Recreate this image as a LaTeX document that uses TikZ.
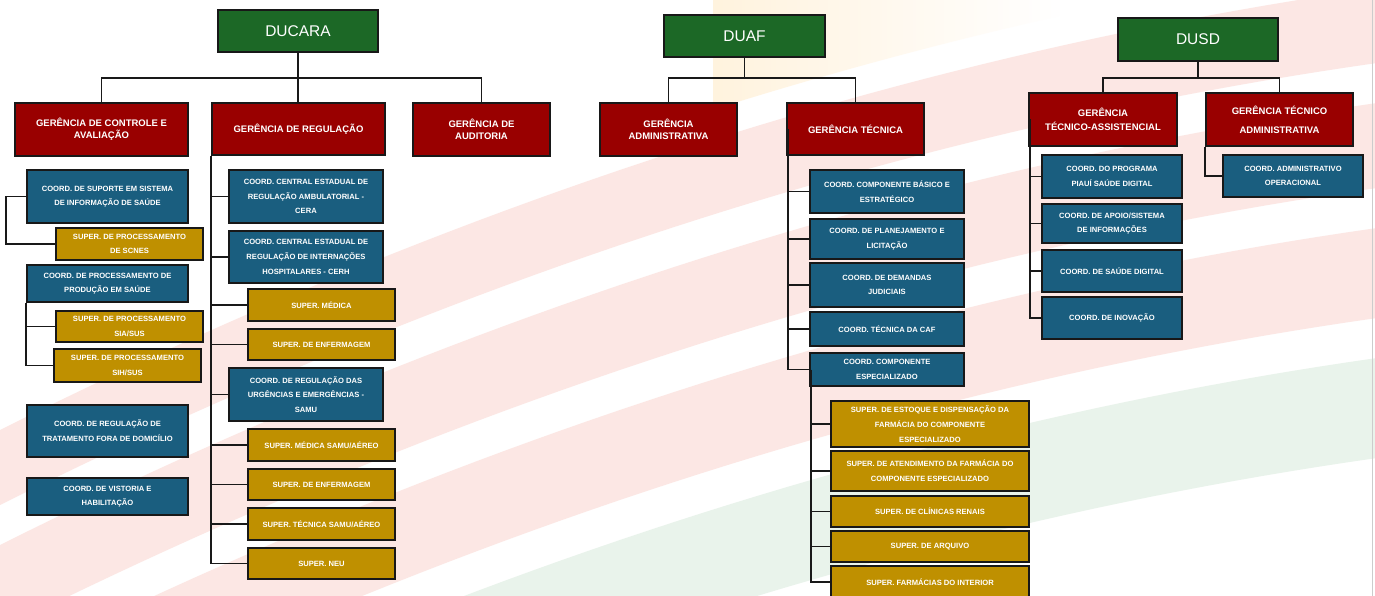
\documentclass[tikz,border=0pt]{standalone}
\usepackage{fontspec}
\setmainfont{Liberation Sans}
\usetikzlibrary{fadings}
\definecolor{dgreen}{RGB}{28,104,38}
\definecolor{dred}{RGB}{153,0,0}
\definecolor{dblue}{RGB}{26,94,127}
\definecolor{dgold}{RGB}{191,144,0}
\definecolor{boxline}{RGB}{24,24,24}
\definecolor{linkgray}{RGB}{25,25,25}
\definecolor{bandpink}{RGB}{252,231,228}
\definecolor{bandyellow}{RGB}{255,243,222}
\definecolor{bandgreen}{RGB}{233,243,235}
% place a box by its pixel corners: name, style, x1, y1, x2, y2, text
\newcommand\orgbox[7]{\node[#2,minimum width={(#5-#3)*1pt},minimum height={(#6-#4)*1pt}] (#1) at ({(#3+#5)/2},{(#4+#6)/2}) {#7};}
% a curved background stripe between two offsets
\newcommand\stripe[3]{\fill[#1] plot[domain=0:13.75,samples=50,variable=\u] ({100*\u},{#2-50*\u+1.3*\u*\u}) -- plot[domain=13.75:0,samples=50,variable=\u] ({100*\u},{#3-50*\u+1.3*\u*\u}) -- cycle;}
\begin{document}
\begin{tikzpicture}[x=1pt,y=-1pt,
  box/.style={draw=boxline,line width=1.5pt,inner sep=0pt,text=white,align=center},
  dir/.style={box,fill=dgreen,font=\fontsize{15.5}{18}\selectfont},
  ger/.style={box,fill=dred,font=\bfseries\fontsize{9.5}{12}\selectfont},
  crd/.style={box,fill=dblue,font=\bfseries\fontsize{7.6}{14.7}\selectfont},
  sup/.style={box,fill=dgold,font=\bfseries\fontsize{7.6}{14.7}\selectfont},
  link/.style={draw=linkgray,line width=1.8pt}]
\useasboundingbox (0,0) rectangle (1375,596);
% background stripes
\begin{scope}
  \clip (0,0) rectangle (1375,596);
  \fill[white] (0,0) rectangle (1375,596);
  \stripe{bandpink}{430}{505}
  \stripe{bandpink}{545}{630}
  \stripe{bandpink}{670}{760}
  \stripe{bandgreen}{800}{900}
  \begin{scope}
    \clip (713,0) rectangle (1060,596);
    \fill[bandyellow,path fading=east]
      plot[domain=7.13:10.6,samples=30,variable=\u] ({100*\u},{280-50*\u+1.3*\u*\u})
      -- plot[domain=10.6:7.13,samples=30,variable=\u] ({100*\u},{400-50*\u+1.3*\u*\u}) -- cycle;
  \end{scope}
\end{scope}
\draw[gray!40,line width=1pt] (1372,0) -- (1372,596);

% ---------- DUCARA ----------
\orgbox{ducara}{dir}{218}{10}{378}{52}{DUCARA}
\orgbox{ctrl}{ger}{15}{103}{188}{156}{GERÊNCIA DE CONTROLE E\\AVALIAÇÃO}
\orgbox{reg}{ger}{212}{103}{385}{155}{GERÊNCIA DE REGULAÇÃO}
\orgbox{aud}{ger}{413}{103}{550}{156}{GERÊNCIA DE\\AUDITORIA}
\orgbox{csup}{crd}{27}{170}{188}{223}{COORD. DE SUPORTE EM SISTEMA\\DE INFORMAÇÃO DE SAÚDE}
\orgbox{scnes}{sup}{56}{228}{203}{260}{SUPER. DE PROCESSAMENTO\\DE SCNES}
\orgbox{cprod}{crd}{27}{265}{188}{302}{COORD. DE PROCESSAMENTO DE\\PRODUÇÃO EM SAÚDE}
\orgbox{sia}{sup}{56}{311}{203}{342}{SUPER. DE PROCESSAMENTO\\SIA/SUS}
\orgbox{sih}{sup}{54}{349}{201}{382}{SUPER. DE PROCESSAMENTO\\SIH/SUS}
\orgbox{ctfd}{crd}{27}{405}{188}{457}{COORD. DE REGULAÇÃO DE\\TRATAMENTO FORA DE DOMICÍLIO}
\orgbox{cvist}{crd}{27}{478}{188}{515}{COORD. DE VISTORIA E\\HABILITAÇÃO}
\orgbox{cera}{crd}{229}{170}{383}{223}{COORD. CENTRAL ESTADUAL DE\\REGULAÇÃO AMBULATORIAL -\\CERA}
\orgbox{cerh}{crd}{229}{231}{383}{283}{COORD. CENTRAL ESTADUAL DE\\REGULAÇÃO DE INTERNAÇÕES\\HOSPITALARES - CERH}
\orgbox{smed}{sup}{248}{289}{395}{321}{SUPER. MÉDICA}
\orgbox{senf}{sup}{248}{329}{395}{360}{SUPER. DE ENFERMAGEM}
\orgbox{samu}{crd}{229}{368}{383}{421}{COORD. DE REGULAÇÃO DAS\\URGÊNCIAS E EMERGÊNCIAS -\\SAMU}
\orgbox{smsa}{sup}{248}{429}{395}{461}{SUPER. MÉDICA SAMU/AÉREO}
\orgbox{senfb}{sup}{248}{469}{395}{500}{SUPER. DE ENFERMAGEM}
\orgbox{stsa}{sup}{248}{508}{395}{540}{SUPER. TÉCNICA SAMU/AÉREO}
\orgbox{sneu}{sup}{248}{548}{395}{579}{SUPER. NEU}

% ---------- DUAF ----------
\orgbox{duaf}{dir}{664}{15}{825}{57}{DUAF}
\orgbox{gadm}{ger}{600}{103}{737}{156}{GERÊNCIA\\ADMINISTRATIVA}
\orgbox{gtec}{ger}{787}{103}{924}{155}{GERÊNCIA TÉCNICA}
\orgbox{cbas}{crd}{810}{170}{964}{213}{COORD. COMPONENTE BÁSICO E\\ESTRATÉGICO}
\orgbox{cplan}{crd}{810}{219}{964}{259}{COORD. DE PLANEJAMENTO E\\LICITAÇÃO}
\orgbox{cjud}{crd}{810}{263}{964}{307}{COORD. DE DEMANDAS\\JUDICIAIS}
\orgbox{ccaf}{crd}{810}{312}{964}{346}{COORD. TÉCNICA DA CAF}
\orgbox{cesp}{crd}{810}{353}{964}{386}{COORD. COMPONENTE\\ESPECIALIZADO}
\orgbox{sest}{sup}{831}{401}{1029}{447}{SUPER. DE ESTOQUE E DISPENSAÇÃO DA\\FARMÁCIA DO COMPONENTE\\ESPECIALIZADO}
\orgbox{sate}{sup}{831}{451}{1029}{491}{SUPER. DE ATENDIMENTO DA FARMÁCIA DO\\COMPONENTE ESPECIALIZADO}
\orgbox{sren}{sup}{831}{496}{1029}{527}{SUPER. DE CLÍNICAS RENAIS}
\orgbox{sarq}{sup}{831}{531}{1029}{562}{SUPER. DE ARQUIVO}
\orgbox{sfar}{sup}{831}{566}{1029}{598}{SUPER. FARMÁCIAS DO INTERIOR}

% ---------- DUSD ----------
\orgbox{dusd}{dir}{1118}{18}{1278}{61}{DUSD}
\orgbox{gta}{ger,font=\bfseries\fontsize{9.5}{14}\selectfont}{1029}{93}{1177}{146}{GERÊNCIA\\TÉCNICO-ASSISTENCIAL}
\orgbox{gtad}{ger,font=\bfseries\fontsize{9.5}{19}\selectfont}{1206}{93}{1353}{146}{GERÊNCIA TÉCNICO\\ADMINISTRATIVA}
\orgbox{cprog}{crd}{1042}{155}{1182}{198}{COORD. DO PROGRAMA\\PIAUÍ SAÚDE DIGITAL}
\orgbox{capo}{crd}{1042}{204}{1182}{243}{COORD. DE APOIO/SISTEMA\\DE INFORMAÇÕES}
\orgbox{csd}{crd}{1042}{250}{1182}{292}{COORD. DE SAÚDE DIGITAL}
\orgbox{cino}{crd}{1042}{297}{1182}{339}{COORD. DE INOVAÇÃO}
\orgbox{cadm}{crd}{1223}{155}{1363}{197}{COORD. ADMINISTRATIVO\\OPERACIONAL}

% ---------- connectors ----------
\coordinate (ducara-j) at (298,78);
\coordinate (duaf-j) at (744,78);
\coordinate (dusd-j) at (1198,78);

\draw[link] (ducara.south) -- (ducara.south |- reg.north);
\draw[link] (ctrl.north) -- (ctrl.north |- ducara-j) -- (aud.north |- ducara-j) -- (aud.north);
\draw[link] (csup.west) -- ++(-20,0) |- (scnes.west);
\draw[link] (cprod.south west) |- (sih.west);
\draw[link] (cprod.south west |- sia.west) -- (sia.west);
\draw[link] (reg.south west) |- (sneu.west);
\foreach \n in {cera,cerh,smed,senf,samu,smsa,senfb,stsa}
  \draw[link] (reg.south west |- \n.west) -- (\n.west);

\draw[link] (duaf.south) -- (duaf.south |- duaf-j);
\draw[link] (gadm.north) -- (gadm.north |- duaf-j) -- (gtec.north |- duaf-j) -- (gtec.north);
\draw[link] ([xshift=2]gtec.west) |- (cesp.west);
\foreach \n in {cbas,cplan,cjud,ccaf}
  \draw[link] ([xshift=2]gtec.west |- \n.west) -- (\n.west);
\draw[link] ([xshift=2]cesp.west) |- (sfar.west);
\foreach \n in {sest,sate,sren,sarq}
  \draw[link] ([xshift=2]cesp.west |- \n.west) -- (\n.west);

\draw[link] (dusd.south) -- (dusd.south |- dusd-j);
\draw[link] (gta.north) -- (gta.north |- dusd-j) -- (gtad.north |- dusd-j) -- (gtad.north);
\draw[link] ([xshift=2]gta.west) |- (cino.west);
\foreach \n in {cprog,capo,csd}
  \draw[link] ([xshift=2]gta.west |- \n.west) -- (\n.west);
\draw[link] (gtad.south west) |- (cadm.west);
\end{tikzpicture}
\end{document}
